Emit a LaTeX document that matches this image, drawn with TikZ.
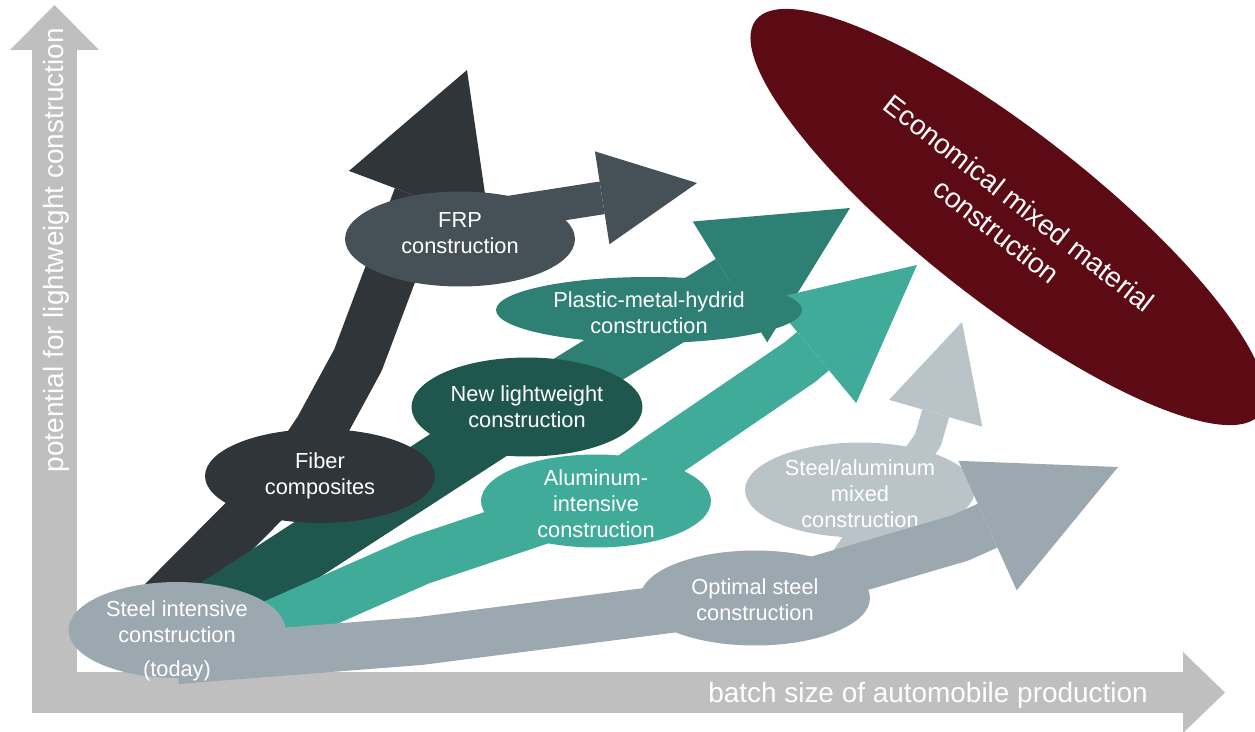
\documentclass[tikz,border=0pt]{standalone}
\usepackage{fontspec}
\setmainfont{Liberation Sans}
\usetikzlibrary{shapes.geometric,arrows.meta}

\definecolor{axisgray}{HTML}{BFBFBF}
\definecolor{fibercol}{HTML}{2F3538}
\definecolor{frpcol}{HTML}{465157}
\definecolor{newlwcol}{HTML}{1F564E}
\definecolor{pmhcol}{HTML}{2E7F74}
\definecolor{alucol}{HTML}{41AB9A}
\definecolor{stalcol}{HTML}{BAC3C7}
\definecolor{steelcol}{HTML}{9BA8AF}
\definecolor{econcol}{HTML}{5C0A14}

\pgfdeclarelayer{bg}
\pgfdeclarelayer{fg}
\pgfsetlayers{bg,main,fg}

\tikzset{%
        bubble/.style={
                ellipse,
                inner sep=0pt,
                minimum width=4.6cm,
                minimum height=1.9cm
            },
        lbl/.style={
                text=white,
                align=center,
                font=\fontsize{12.4}{14.7}\selectfont
            },
        axislbl/.style={
                text=white,
                anchor=base,
                inner sep=0pt,
                font=\fontsize{15.9}{19}\selectfont
            },
        band/.style={
                line width=#1,
                line join=round
            },
        head/.style 2 args={
                -{Triangle[length=#1, width=#2, line width=0pt]}
            }
    }

\begin{document}
\begin{tikzpicture}[x=0.02cm, y=-0.02cm]
    \useasboundingbox (0,0) rectangle (1255,731);

    % axes:
        \coordinate (ybot) at (54.5,713);
        \coordinate (ytop) at (54.5,5);
        \coordinate (xleft) at (32,692.5);
        \coordinate (xright) at (1225,692.5);
        \begin{pgfonlayer}{bg}
            \draw[axisgray, band=0.9cm, head={0.9cm}{1.78cm}] (ybot) -- (ytop);
            \draw[axisgray, band=0.82cm, head={0.84cm}{1.62cm}] (xleft) -- (xright);
        \end{pgfonlayer}
        \node [axislbl, rotate=90]  (ylab) at (63,250) {potential for lightweight construction};
        \node [axislbl]  (xlab) at (928,702) {batch size of automobile production};

    % bubbles:
        \node [bubble, fill=econcol, rotate=-38, minimum width=12.8cm, minimum height=3.4cm, lbl,
               font=\fontsize{15.9}{20.4}\selectfont]  (econ) at (1008,217) {Economical mixed material\\construction};
        \node [bubble, fill=frpcol, label={[lbl, yshift=0.12cm]center:{FRP\\construction}}]  (frp) at (460,239) {};
        \node [bubble, fill=fibercol, minimum height=1.88cm, label={[lbl]center:{Fiber\\composites}}]  (fiber) at (320,476) {};
        \node [bubble, fill=pmhcol, minimum width=6.12cm, minimum height=1.32cm,
               label={[lbl, yshift=-0.06cm]center:{Plastic-metal-hydrid\\construction}}]  (pmh) at (649,310) {};
        \node [bubble, fill=newlwcol, minimum width=4.62cm, minimum height=1.98cm,
               label={[lbl]center:{New lightweight\\construction}}]  (newlw) at (527,407) {};
        \node [bubble, fill=alucol, minimum height=1.86cm,
               label={[lbl, yshift=-0.05cm]center:{Aluminum-\\intensive\\construction}}]  (alu) at (596,501) {};
        \node [bubble, fill=stalcol,
               label={[lbl, yshift=-0.07cm]center:{Steel/aluminum\\mixed\\construction}}]  (stal) at (860,490) {};
        \begin{pgfonlayer}{fg}
            \node [bubble, fill=steelcol, label={[lbl, yshift=-0.04cm]center:{Optimal steel\\construction}}]  (optimal) at (755,598) {};
            \node [bubble, fill=steelcol, minimum width=4.34cm, minimum height=1.92cm,
                   label={[lbl, yshift=-0.22cm]center:{Steel intensive\\construction\\[4.5pt](today)}}]  (steel) at (177,630) {};
        \end{pgfonlayer}

    % arrows:
        \coordinate (fibertip) at (467,70);
        \coordinate (frptip) at (697,183);
        \coordinate (pmhtip) at (850,208);
        \coordinate (alutip) at (917,265);
        \coordinate (staltip) at (962,322);
        \coordinate (opttip) at (1118,467);

        \begin{pgfonlayer}{bg}
            \draw[fibercol, band=1.04cm, head={2.72cm}{3cm}] ([shift={(-37,-4)}]steel.center) -- ([shift={(-31,0)}]fiber.center) -- (320,430) -- (358,360) -- (fibertip);
            \draw[frpcol, band=0.66cm, head={1.92cm}{1.88cm}] ([shift={(0,-19)}]frp.center) -- (frptip);
            \draw[newlwcol, band=1.2cm] ([shift={(23,-11)}]steel.center) -- (newlw.center);
            \draw[pmhcol, band=1.08cm, head={2.82cm}{2.84cm}] (newlw.center) -- (pmhtip);
            \draw[alucol, band=1cm, head={2.7cm}{2.7cm}] ([shift={(73,5)}]steel.center) -- (420,560) -- (alu.center) -- (800,362) -- (alutip);
            \draw[stalcol, band=0.56cm, head={1.9cm}{1.94cm}] ([shift={(90,-40)}]optimal.center) -- (928,440) -- (staltip);
        \end{pgfonlayer}
        \draw[steelcol, band=0.96cm, head={2.86cm}{2.84cm}] ([shift={(0,30)}]steel.center) -- (420,641) -- (optimal.center) -- (960,538) -- (opttip);
\end{tikzpicture}
\end{document}
